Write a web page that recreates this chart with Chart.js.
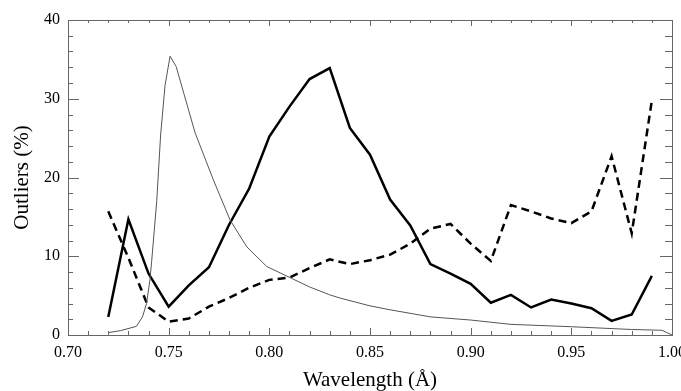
<!DOCTYPE html>
<html>
<head>
<meta charset="utf-8">
<script src="https://cdn.jsdelivr.net/npm/chart.js@4.4.1/dist/chart.umd.min.js"></script>
<style>
  html, body { margin: 0; padding: 0; background: #fff; }
  canvas { display: block; }
</style>
</head>
<body>
<canvas id="chart" width="681" height="391"></canvas>
<script>
// wavelength grid shared by the two outlier curves
const wavelengths = [0.72, 0.73, 0.74, 0.75, 0.76, 0.77, 0.78, 0.79, 0.80, 0.81,
  0.82, 0.83, 0.84, 0.85, 0.86, 0.87, 0.88, 0.89, 0.90, 0.91,
  0.92, 0.93, 0.94, 0.95, 0.96, 0.97, 0.98, 0.99];
const outliersSolid = [2.3, 14.7, 7.8, 3.6, 6.3, 8.6, 14.0, 18.6, 25.2, 29.0,
  32.5, 33.9, 26.3, 22.9, 17.2, 13.9, 9.0, 7.8, 6.5, 4.1,
  5.1, 3.5, 4.5, 4.0, 3.4, 1.8, 2.6, 7.5];
const outliersDashed = [15.7, 9.8, 3.5, 1.7, 2.1, 3.6, 4.7, 6.0, 7.0, 7.3,
  8.5, 9.6, 9.0, 9.5, 10.2, 11.6, 13.5, 14.1, 11.6, 9.4,
  16.5, 15.7, 14.8, 14.2, 15.7, 22.7, 12.9, 29.8];

// thin reference curve (own sampling)
const thinX = [0.720, 0.726, 0.734, 0.737, 0.739, 0.7407, 0.7416, 0.7441, 0.746, 0.7482,
  0.7507, 0.7537, 0.7631, 0.7722, 0.7805, 0.7888, 0.7987, 0.811, 0.820, 0.830,
  0.835, 0.850, 0.860, 0.880, 0.900, 0.920, 0.950, 0.980, 0.995, 1.000];
const thinY = [0.3, 0.55, 1.1, 2.3, 4.0, 7.0, 9.5, 17.1, 25.4, 31.7,
  35.4, 34.1, 25.7, 19.7, 14.6, 11.2, 8.7, 7.2, 6.1, 5.1,
  4.7, 3.7, 3.2, 2.3, 1.9, 1.35, 1.05, 0.7, 0.6, 0.0];

const xTicks = [0.70, 0.75, 0.80, 0.85, 0.90, 0.95, 1.00];
const yTicks = [0, 10, 20, 30, 40];

const serif = 'Liberation Serif, Times New Roman, serif';
const toPts = (xs, ys) => xs.map((x, i) => ({ x, y: ys[i] }));

// inward ticks on all four sides plus the box
const frameTicks = {
  id: 'frameTicks',
  afterDraw(chart) {
    const { ctx, chartArea: a, scales: { x, y } } = chart;
    ctx.save();
    ctx.strokeStyle = '#666';
    ctx.lineWidth = 1;
    ctx.strokeRect(Math.round(a.left) + 0.5, Math.round(a.top) + 0.5,
      Math.round(a.right - a.left), Math.round(a.bottom - a.top));
    ctx.beginPath();
    for (let i = 0; i <= 30; i++) {
      const v = 0.70 + i * 0.01;
      const px = Math.round(x.getPixelForValue(v)) + 0.5;
      const major = i % 5 === 0;
      const lb = major ? 7 : 4, lt = major ? 6 : 3;
      ctx.moveTo(px, a.bottom); ctx.lineTo(px, a.bottom - lb);
      ctx.moveTo(px, a.top); ctx.lineTo(px, a.top + lt);
    }
    for (let j = 0; j <= 20; j++) {
      const v = j * 2;
      const py = Math.round(y.getPixelForValue(v)) + 0.5;
      const major = j % 5 === 0;
      const ll = major ? 11 : 5, lr = major ? 12 : 7;
      ctx.moveTo(a.left, py); ctx.lineTo(a.left + ll, py);
      ctx.moveTo(a.right, py); ctx.lineTo(a.right - lr, py);
    }
    ctx.stroke();
    ctx.restore();
  },
};

new Chart(document.getElementById('chart'), {
  type: 'line',
  data: {
    datasets: [
      {
        label: 'thin',
        data: toPts(thinX, thinY),
        borderColor: '#555',
        borderWidth: 1,
        pointRadius: 0,
      },
      {
        label: 'dashed',
        data: toPts(wavelengths, outliersDashed),
        borderColor: '#000',
        borderWidth: 2.5,
        borderDash: [8, 5],
        pointRadius: 0,
      },
      {
        label: 'solid',
        data: toPts(wavelengths, outliersSolid),
        borderColor: '#000',
        borderWidth: 2.5,
        pointRadius: 0,
      },
    ],
  },
  options: {
    responsive: false,
    animation: false,
    layout: { padding: { top: 20, right: 9, bottom: 0, left: 0 } },
    plugins: { legend: { display: false }, tooltip: { enabled: false } },
    scales: {
      x: {
        type: 'linear',
        min: 0.70, max: 1.00,
        afterBuildTicks: s => { s.ticks = xTicks.map(v => ({ value: v })); },
        afterFit: s => { s.height = 56; s.paddingLeft = 0; s.paddingRight = 0; },
        grid: { display: false, drawTicks: false },
        border: { display: false },
        ticks: {
          padding: 8, color: '#000', maxRotation: 0, autoSkip: false,
          font: { family: serif, size: 16 },
          callback: v => Number(v).toFixed(2),
        },
        title: {
          display: true, text: 'Wavelength (Å)', color: '#000',
          font: { family: serif, size: 21, lineHeight: 1 },
          padding: { top: 0, bottom: 0 },
        },
      },
      y: {
        min: 0, max: 40,
        afterBuildTicks: s => { s.ticks = yTicks.map(v => ({ value: v })); },
        afterFit: s => { s.width = 68; },
        grid: { display: false, drawTicks: false },
        border: { display: false },
        ticks: {
          padding: 8, color: '#000',
          font: { family: serif, size: 16 },
        },
        title: {
          display: true, text: 'Outliers (%)', color: '#000',
          font: { family: serif, size: 21, lineHeight: 1 },
          padding: { top: 12, bottom: 0 },
        },
      },
    },
  },
  plugins: [frameTicks],
});
</script>
</body>
</html>
